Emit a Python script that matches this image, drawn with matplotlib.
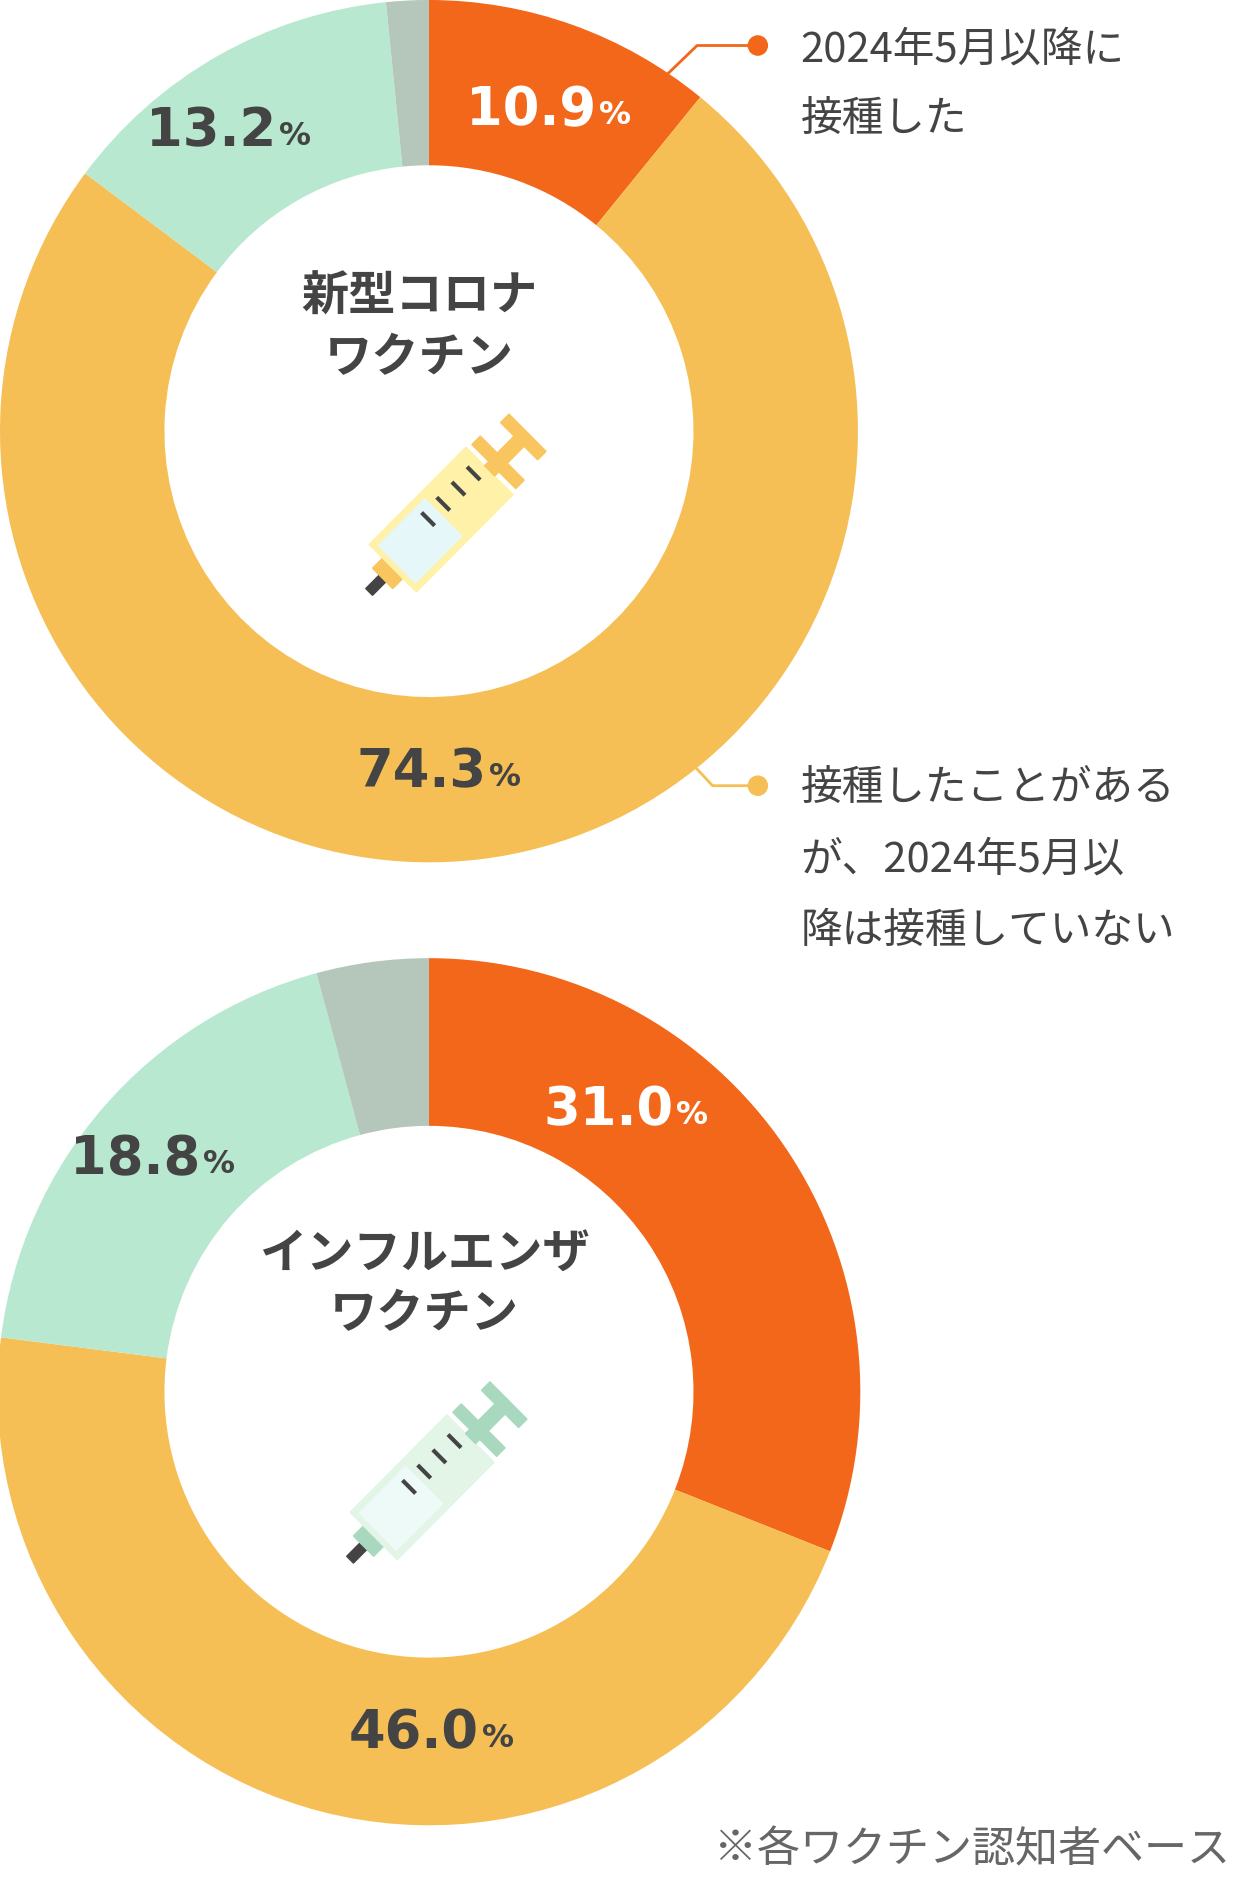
import matplotlib
matplotlib.use("Agg")
import matplotlib.pyplot as plt
from matplotlib.patches import Polygon, Circle
import numpy as np

plt.rcParams['font.family'] = ['Noto Sans CJK JP', 'DejaVu Sans']

categories = ["2024年5月以降に接種した", "接種したことがあるが、2024年5月以降は接種していない", "未接種", "その他"]
covid_values = [10.9, 74.3, 13.2, 1.6]
flu_values = [31.0, 46.0, 18.8, 4.2]
covid_labels = ["10.9", "74.3", "13.2"]
flu_labels = ["31.0", "46.0", "18.8"]
colors = ["#F3671B", "#F5BF55", "#B8E9D0", "#B5C6BA"]
dark = "#444444"

fig = plt.figure(figsize=(12.44, 18.78), dpi=100)
ax = fig.add_axes([0, 0, 1, 1])

def donut(vals, cx, cy, r, w):
    ax.pie(vals, center=(cx, cy), radius=r, startangle=90, counterclock=False,
           colors=colors, wedgeprops=dict(width=w, edgecolor='none'), frame=True)

def pct(x, y, num, color):
    t = ax.text(x, y, num, fontsize=38, fontweight='bold', color=color, ha='right', va='center',
                family=['DejaVu Sans'])
    ax.annotate("%", xy=(1, 0), xycoords=t, xytext=(2, 4), textcoords='offset points',
                fontsize=23, fontweight='bold', color=color, ha='left', va='bottom',
                family=['DejaVu Sans'])

def syringe(cx, cy, body, liquid, accent):
    ang = np.deg2rad(45)
    u = np.array([np.cos(ang), np.sin(ang)])
    v = np.array([-u[1], u[0]])
    c = np.array([cx, cy])
    def rect(a, b, hw, col, z=3):
        pts = [c + u*a + v*hw, c + u*b + v*hw, c + u*b - v*hw, c + u*a - v*hw]
        ax.add_patch(Polygon(pts, closed=True, color=col, zorder=z))
    rect(-70, -88, 4, dark)
    rect(-60, -72, 12, accent)
    rect(-60, 55, 28, body)
    rect(-55, 0, 22, liquid, 4)
    rect(55, 90, 6, accent)
    rect(60, 70, 26, accent)
    rect(90, 100, 22, accent)
    for k in range(4):
        a = -10 + k*18
        p1 = c + u*a + v*14; p2 = c + u*a + v*2
        ax.plot([p1[0], p2[0]], [p1[1], p2[1]], color=dark, lw=3, zorder=5)

donut(covid_values, 360, -360, 360, 138)
donut(flu_values, 360, -1162, 362, 140)
ax.set_xlim(0, 1044); ax.set_ylim(-1568, 0); ax.set_aspect('auto'); ax.axis('off')

pct(500, -92, covid_labels[0], "white")
pct(408, -645, covid_labels[1], dark)
pct(232, -110, covid_labels[2], dark)
pct(565, -927, flu_labels[0], "white")
pct(402, -1447, flu_labels[1], dark)
pct(168, -968, flu_labels[2], dark)

ax.text(352, -273, "新型コロナ\nワクチン", fontsize=34, fontweight='bold', color=dark,
        ha='center', va='center', linespacing=1.35)
ax.text(356, -1072, "インフルエンザ\nワクチン", fontsize=34, fontweight='bold', color=dark,
        ha='center', va='center', linespacing=1.35)
syringe(372, -432, "#FFF2A8", "#E6F7FA", "#F9C55E")
syringe(356, -1240, "#E2F5E6", "#EEFAF8", "#A8D9BF")

ax.plot([636, 585, 560], [-38, -38, -62], color=colors[0], lw=2)
ax.add_patch(Circle((636, -38), 8, color=colors[0]))
ax.text(672, -42, "2024年5月以降に", fontsize=30, color=dark, va='center', ha='left')
ax.text(672, -100, "接種した", fontsize=30, color=dark, va='center', ha='left')

ax.plot([636, 598, 583], [-656, -656, -640], color=colors[1], lw=2)
ax.add_patch(Circle((636, -656), 8, color=colors[1]))
for i, s in enumerate(["接種したことがある", "が、2024年5月以", "降は接種していない"]):
    ax.text(672, -658 - 60*i, s, fontsize=30, color=dark, va='center', ha='left')

ax.text(1032, -1545, "※各ワクチン認知者ベース", fontsize=31, color="#666666", va='center', ha='right')

fig.savefig("out.png", dpi=100, facecolor='white')
